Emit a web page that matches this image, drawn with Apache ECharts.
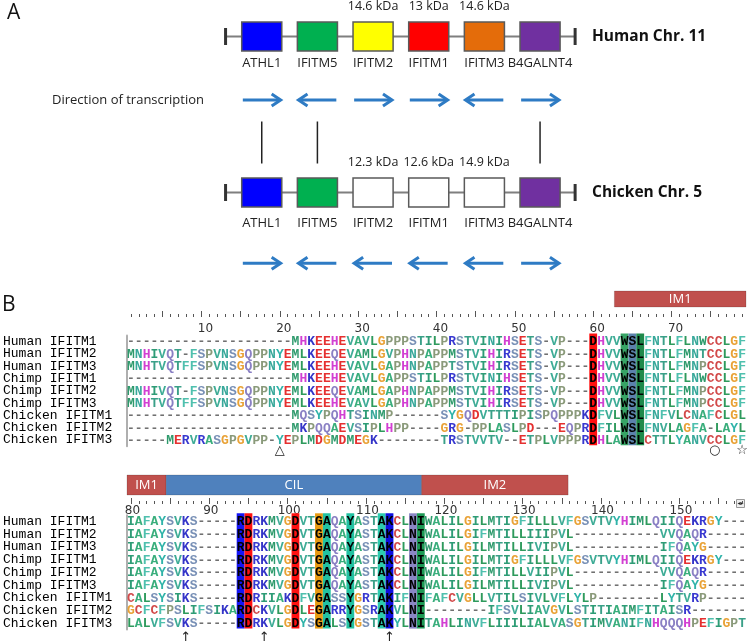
<!DOCTYPE html>
<html><head><meta charset="utf-8">
<script src="https://cdn.jsdelivr.net/npm/echarts@6.0.0/dist/echarts.min.js"></script>
<style>html,body{margin:0;padding:0;background:#fff}#c{width:750px;height:644px}</style>
</head><body><div id="c"></div>
<script>
// ---------------- Panel A data ----------------
const genes = ['ATHL1','IFITM5','IFITM2','IFITM1','IFITM3','B4GALNT4'];
const humanKDa = ['','','14.6 kDa','13 kDa','14.6 kDa',''];
const chickenKDa = ['','','12.3 kDa','12.6 kDa','14.9 kDa',''];
const humanFill = ['#0000FF','#00B050','#FFFF00','#FF0000','#E46C0A','#7030A0'];
const chickenFill = ['#0000FF','#00B050','#FFFFFF','#FFFFFF','#FFFFFF','#7030A0'];
const humanDir = [1,-1,1,1,-1,1];
const chickenDir = [1,-1,-1,-1,-1,1];
const orthologLinks = [0,1,5];

// ---------------- Panel B data ----------------
const seqNames = ['Human IFITM1','Human IFITM2','Human IFITM3','Chimp IFITM1','Chimp IFITM2','Chimp IFITM3','Chicken IFITM1','Chicken IFITM2','Chicken IFITM3'];
const seqTop = [
 '---------------------MHKEEHEVAVLGPPPSTILPRSTVINIHSETS-VP---DHVVWSLFNTLFLNWCCLGF',
 'MNHIVQT-FSPVNSGQPPNYEMLKEEQEVAMLGVPHNPAPPMSTVIHIRSETS-VP---DHVVWSLFNTLFMNTCCLGF',
 'MNHTVQTFFSPVNSGQPPNYEMLKEEHEVAVLGAPHNPAPPTSTVIHIRSETS-VP---DHVVWSLFNTLFMNPCCLGF',
 '---------------------MHKEEHEVAVLGAPPSTILPRSTVINIHSETS-VP---DHVVWSLFNTLFLNWCCLGF',
 'MNHIVQT-FSPVNSGQPPNYEMLKEEQEVAMLGAPHNPAPPMSTVIHIRSETS-VP---DHVVWSLFNTLFMNPCCLGF',
 'MNHTVQTFFSPVNSGQPPNYEMLKEEHEVAVLGAPHNPAPPMSTVIHIRSETS-VP---DHVVWSLFNTLFMNPCCLGF',
 '---------------------MQSYPQHTSINMP------SYGQDVTTTIPISPQPPPKDFVLWSLFNFVLCNAFCLGL',
 '---------------------MKPQQAEVSIPLHPP----GRG-PPLASLPD---EQPRDFILWSLFNVLAGFA-LAYL',
 '-----MERVRASGPGVPP-YEPLMDGMDMEGK--------TRSTVVTV--ETPLVPPPRDHLAWSLCTTLYANVCCLGF'
];
const seqBottom = [
 'IAFAYSVKS-----RDRKMVGDVTGAQAYASTAKCLNIWALILGILMTIGFILLLVFGSVTVYHIMLQIIQEKRGY---',
 'IAFAYSVKS-----RDRKMVGDVTGAQAYASTAKCLNIWALILGIFMTILLIIIPVL-----------VVQAQR-----',
 'IAFAYSVKS-----RDRKMVGDVTGAQAYASTAKCLNIWALILGILMTILLIVIPVL-----------IFQAYG-----',
 'IAFAYSVKS-----RDRKMVGDVTGAQAYASTAKCLNIWALILGILMTIGFILLLVFGSVTVYHIMLQIIQEKRGY---',
 'IAFAYSVKS-----RDRKMVGDVTGAQAYASTAKCLNIWALILGIFMTILLVIIPVL-----------VVQAQR-----',
 'IAFAYSVKS-----RDRKMVGDVTGAQAYASTAKCLNIWALILGILMTILLIVIPVL-----------IFQAYG-----',
 'CALSYSIKS-----RDRIIAKDFVGASSYGRTAKIFNIFAFCVGLLVTILSIVLVFLYLP--------LYTVRP-----',
 'GCFCFPSLIFSIKARDCKVLGDLEGARRYGSRAKVLNI--------IFSVLIAVGVLSTITIAIMFITAISR-------',
 'LALVFSVKS-----RDRKVLGDYSGALSYGSTAKYLNITAHLINVFLIIILIALVASGTIMVANIFNHQQQHPEFIGPT'
];
const topFirstCol = 1, bottomFirstCol = 80;
const topCols = Array.from({length: seqTop[0].length}, (_, i) => String(topFirstCol + i));
const bottomCols = Array.from({length: seqBottom[0].length}, (_, i) => String(bottomFirstCol + i));

const hlTopCols = [60, 64, 65, 66];
const hlTopColors = ['#FF1010', '#37A465', '#5B82AC', '#1F8A4B'];
const hlBottomCols = [94, 95, 101, 104, 105, 108, 112, 113, 116, 117];
const hlBottomColors = ['#1414F5', '#FF1010', '#FF1010', '#E89B12', '#22C2A2', '#22C2A2', '#2CCBAE', '#0E0EE0', '#8A86C4', '#1E9A55'];

const domTopNames = ['IM1'], domTopStart = [62.7], domTopEnd = [79.5];
const domBotNames = ['IM1','CIL','IM2'], domBotStart = [79.5, 84.5, 117.1], domBotEnd = [84.5, 117.1, 135.8];
const domColors = {IM1:'#C0504D', CIL:'#4F81BD', IM2:'#C0504D'};

const topMarkCols = [20, 75.5, 79], topMarkSyms = ['\u25B3', '\u25CB', '\u2606'];
const bottomMarkCols = [87, 97, 113], bottomMarkSyms = ['\u2191', '\u2191', '\u2191'];

const aaColor = {
 A:'#3AAE7C', C:'#D24A4A', D:'#E53030', E:'#E53030', F:'#4FC0AE', G:'#E9A236', H:'#D23FD2',
 I:'#2E9C76', K:'#3434C8', L:'#2E9A5C', M:'#2E9A6C', N:'#38A89A', P:'#8A9A7A', Q:'#8A80C4',
 R:'#3838D0', S:'#7890B6', T:'#3AA088', V:'#3EAC96', W:'#2E9A6C', Y:'#2FB3A9', '-':'#707070'
};

// ---------------- layout ----------------
const TOP = {left:127, top:335.5, width:619, height:110.7};
const BOT = {left:127, top:515.3, width:619, height:114.3};
const SEQ_FONT = 'bold 13px "Liberation Mono"';

const chart = echarts.init(document.getElementById('c'));

function xAt(api, v) { // v: 0-based fractional column index (0 = centre of first column)
  return api.coord([0, 0])[0] + v * api.size([1, 0])[0];
}

function chrSeries(rowY, fills, kda, nameDy) {
  return {
    type:'custom', xAxisIndex:0, yAxisIndex:0, silent:true, clip:false, z:3,
    data: genes.map((g, i) => [i, rowY]),
    renderItem(params, api) {
      const i = params.dataIndex;
      const c = api.coord([i, rowY]);
      const bw = api.size([0.72, 0])[0], bh = api.size([0, 29])[1];
      const ch = [];
      if (i === 0) {
        const l = api.coord([-0.65, rowY]), r = api.coord([5.63, rowY]);
        ch.push({type:'line', shape:{x1:l[0], y1:l[1], x2:r[0], y2:r[1]}, style:{stroke:'#7F7F7F', lineWidth:2}});
        [l, r].forEach(p => ch.push({type:'line', shape:{x1:p[0], y1:p[1]-8.5, x2:p[0], y2:p[1]+8.5}, style:{stroke:'#333', lineWidth:3}}));
      }
      ch.push({type:'rect', shape:{x:c[0]-bw/2, y:c[1]-bh/2, width:bw, height:bh}, style:{fill:fills[i], stroke:'#5A5A5A', lineWidth:1.5}});
      ch.push({type:'text', x:c[0], y:c[1]+nameDy, style:{text:genes[i], fill:'#222', font:'13px "Open Sans"', align:'center', verticalAlign:'middle'}});
      if (kda[i]) ch.push({type:'text', x:c[0], y:c[1]-29.7, style:{text:kda[i], fill:'#222', font:'12.5px "Open Sans"', align:'center', verticalAlign:'middle'}});
      return {type:'group', children:ch};
    }
  };
}

function arrowSeries(rowY, dirs) {
  return {
    type:'custom', xAxisIndex:0, yAxisIndex:0, silent:true, clip:false,
    data: dirs.map((d, i) => [i, rowY]),
    renderItem(params, api) {
      const i = params.dataIndex, d = dirs[i];
      const c = api.coord([i, rowY]);
      const hl = api.size([0.34, 0])[0];
      const tip = c[0] + d*hl, tail = c[0] - d*hl;
      return {type:'group', children:[
        {type:'line', shape:{x1:tail, y1:c[1], x2:tip - d*1.5, y2:c[1]}, style:{stroke:'#2E7BC4', lineWidth:3}},
        {type:'polyline', shape:{points:[[tip-d*9, c[1]-6],[tip, c[1]],[tip-d*9, c[1]+6]]}, style:{stroke:'#2E7BC4', lineWidth:3, fill:null, lineJoin:'miter'}}
      ]};
    }
  };
}

function seqSeries(seqs, gridIdx, firstCol, hlCols) {
  const data = [];
  seqs.forEach((s, r) => { for (let c = 0; c < s.length; c++) data.push([c, r]); });
  const hl = new Set(hlCols.map(c => c - firstCol));
  return {
    type:'custom', xAxisIndex: gridIdx === 1 ? 1 : 4, yAxisIndex: gridIdx, silent:true, z:4,
    data,
    renderItem(params, api) {
      const c = api.value(0), r = api.value(1);
      const chr = seqs[r][c];
      const p = api.coord([c, r]);
      return {type:'text', x:p[0], y:p[1]+0.5, style:{text:chr, fill: hl.has(c) ? '#000' : (aaColor[chr] || '#333'), font:SEQ_FONT, align:'center', verticalAlign:'middle'}};
    }
  };
}

function hlSeries(cols, colors, gridIdx, firstCol, nRows) {
  return {
    type:'custom', xAxisIndex: gridIdx === 1 ? 1 : 4, yAxisIndex: gridIdx, silent:true, z:2,
    data: cols.map(c => [c - firstCol, 0]),
    renderItem(params, api) {
      const c = api.value(0);
      const p0 = api.coord([c, 0]), p1 = api.coord([c, nRows - 1]);
      const s = api.size([1, 1]);
      return {type:'rect', shape:{x:p0[0]-s[0]/2, y:p0[1]-s[1]/2-2, width:s[0], height:p1[1]-p0[1]+s[1]+1}, style:{fill:colors[params.dataIndex]}};
    }
  };
}

function domainSeries(names, starts, ends, gridIdx, firstCol, y0, h) {
  return {
    type:'custom', xAxisIndex: gridIdx === 1 ? 1 : 4, yAxisIndex: gridIdx, silent:true, clip:false, z:3,
    data: names.map((n, i) => [starts[i] - firstCol, ends[i] - firstCol]),
    renderItem(params, api) {
      const x0 = xAt(api, api.value(0)), x1 = xAt(api, api.value(1));
      const n = names[params.dataIndex];
      return {type:'group', children:[
        {type:'rect', shape:{x:x0, y:y0, width:x1-x0, height:h}, style:{fill:domColors[n], stroke:'rgba(0,0,0,0.15)', lineWidth:1}},
        {type:'text', x:(x0+x1)/2, y:y0+h/2, style:{text:n, fill:'#fff', font:'13px "Open Sans"', align:'center', verticalAlign:'middle'}}
      ]};
    }
  };
}

function markSeries(cols, syms, gridIdx, firstCol, y, font) {
  return {
    type:'custom', xAxisIndex: gridIdx === 1 ? 1 : 4, yAxisIndex: gridIdx, silent:true, clip:false, z:3,
    data: cols.map(c => [c - firstCol, 0]),
    renderItem(params, api) {
      const x = xAt(api, api.value(0));
      return {type:'text', x, y, style:{text:syms[params.dataIndex], fill:'#222', font, align:'center', verticalAlign:'middle'}};
    }
  };
}

function rulerAxes(gridIndex, cols, g, tickBase, labelBottom, shift) {
  const base = {gridIndex, type:'category', data:cols, position:'top', boundaryGap:true, splitLine:{show:false}, axisLine:{show:false}};
  return [
    Object.assign({}, base, {offset: g.top - tickBase, axisTick:{show:true, alignWithLabel:true, interval:0, length:3, lineStyle:{color:'#555', width:1}}, axisLabel:{show:false}}),
    Object.assign({}, base, {offset: g.top - tickBase, axisTick:{show:true, alignWithLabel:true, interval:(i, v) => (+v) % 5 === 0, length:6, lineStyle:{color:'#555', width:1}}, axisLabel:{show:false}}),
    Object.assign({}, base, {offset: g.top - labelBottom, axisTick:{show:false}, axisLabel:{show:true, interval:(i, v) => (+v) % 10 === 0, margin:0, fontSize:12, fontFamily:'DejaVu Sans', color:'#333', padding:[0,0,0,shift]}})
  ];
}

function nameAxis(gridIndex) {
  return {gridIndex, type:'category', data:seqNames, inverse:true,
    axisLine:{show:true, lineStyle:{color:'#AFAFAF', width:2}}, axisTick:{show:false}, splitLine:{show:false},
    axisLabel:{interval:0, align:'left', margin:124, fontFamily:'Liberation Mono', fontSize:13, color:'#000'}};
}

const option = {
  animation:false,
  backgroundColor:'#fff',
  grid:[
    {left:220, top:0, width:361.8, height:280},
    TOP, BOT
  ],
  xAxis:[
    {gridIndex:0, type:'value', min:-0.75, max:5.75, show:false},
    ...rulerAxes(1, topCols, TOP, 317, 334.5, 8),
    ...rulerAxes(2, bottomCols, BOT, 504, 517.3, 3)
  ],
  yAxis:[
    {gridIndex:0, type:'value', min:0, max:280, inverse:true, show:false},
    nameAxis(1), nameAxis(2)
  ],
  graphic:[
    {type:'text', left:7, top:3, style:{text:'A', font:'21px "Open Sans"', fill:'#111'}},
    {type:'text', left:2, top:295, style:{text:'B', font:'21px "Open Sans"', fill:'#111'}},
    {type:'text', x:592, y:37, style:{text:'Human Chr. 11', font:'bold 15.5px "Open Sans"', fill:'#111', verticalAlign:'middle'}},
    {type:'text', x:592, y:193, style:{text:'Chicken Chr. 5', font:'bold 15.5px "Open Sans"', fill:'#111', verticalAlign:'middle'}},
    {type:'text', x:52, y:100, style:{text:'Direction of transcription', font:'13px "Open Sans"', fill:'#222', verticalAlign:'middle'}},
    {type:'rect', shape:{x:736.5, y:499.5, width:8, height:8}, style:{fill:'#eee', stroke:'#999', lineWidth:1}},
    {type:'text', x:740.5, y:503.5, style:{text:'\u25C2\u25B8', font:'6px "DejaVu Sans"', fill:'#222', align:'center', verticalAlign:'middle'}}
  ],
  series:[
    chrSeries(36.5, humanFill, humanKDa, 26.8),
    chrSeries(192.5, chickenFill, chickenKDa, 30.8),
    arrowSeries(100, humanDir),
    arrowSeries(263.3, chickenDir),
    {
      type:'custom', xAxisIndex:0, yAxisIndex:0, silent:true, clip:false,
      data: orthologLinks.map(i => [i, 121.5]),
      renderItem(params, api) {
        const a = api.coord([api.value(0), 121.5]), b = api.coord([api.value(0), 163.5]);
        return {type:'line', shape:{x1:a[0], y1:a[1], x2:b[0], y2:b[1]}, style:{stroke:'#222', lineWidth:1.5}};
      }
    },
    hlSeries(hlTopCols, hlTopColors, 1, topFirstCol, seqTop.length),
    hlSeries(hlBottomCols, hlBottomColors, 2, bottomFirstCol, seqBottom.length),
    seqSeries(seqTop, 1, topFirstCol, hlTopCols),
    seqSeries(seqBottom, 2, bottomFirstCol, hlBottomCols),
    domainSeries(domTopNames, domTopStart, domTopEnd, 1, topFirstCol, 291, 16),
    domainSeries(domBotNames, domBotStart, domBotEnd, 2, bottomFirstCol, 475, 20),
    markSeries(topMarkCols, topMarkSyms, 1, topFirstCol, 451, '13px "DejaVu Sans"'),
    markSeries(bottomMarkCols, bottomMarkSyms, 2, bottomFirstCol, 638, '13px "DejaVu Sans"')
  ]
};
chart.setOption(option);
</script></body></html>
